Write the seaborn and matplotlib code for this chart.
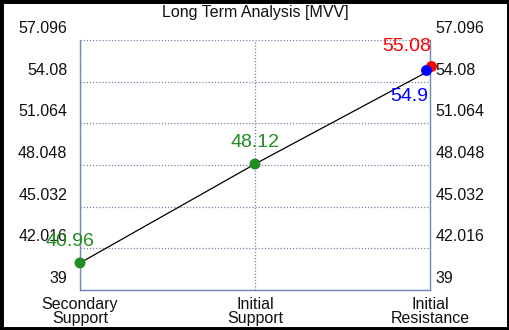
import pandas as pd
import matplotlib
matplotlib.use("Agg")
import matplotlib.pyplot as plt
import matplotlib.transforms as mtransforms
from matplotlib.patches import Rectangle
import seaborn as sns

# chart data
categories = ["Secondary\nSupport", "Initial\nSupport", "Initial\nResistance"]
path_values = [40.96, 48.12, 54.9]
path_colors = ["#228b22", "#228b22", "#0000ff"]
resistance_value = 55.08
y_ticks = [39, 42.016, 45.032, 48.048, 51.064, 54.08, 57.096]
y_tick_labels = ["39", "42.016", "45.032", "48.048", "51.064", "54.08", "57.096"]

sns.set_theme(style="white")
plt.rcParams["font.family"] = ["Liberation Sans", "DejaVu Sans"]

df = pd.DataFrame({"pos": range(len(categories)), "value": path_values, "color": path_colors})

fig = plt.figure(figsize=(5.1, 3.3), dpi=100)
ax = fig.add_axes([80 / 510, 40 / 330, 350 / 510, 250 / 330])

sns.lineplot(data=df, x="pos", y="value", color="black", linewidth=0.9, ax=ax, zorder=3)
ax.lines[-1].set_clip_on(False)

# small pixel nudges so the two end markers sit side by side as in the source
left = mtransforms.ScaledTranslation(-4 / 100, 0, fig.dpi_scale_trans)
right = mtransforms.ScaledTranslation(1 / 100, 2 / 100, fig.dpi_scale_trans)
ax.scatter([2], [resistance_value], c="#ff0000", s=62, zorder=4, linewidths=0,
           transform=ax.transData + right, clip_on=False)
ax.scatter(df["pos"][:2], df["value"][:2], c=df["color"][:2], s=62, zorder=5,
           linewidths=0, clip_on=False)
ax.scatter(df["pos"][2:], df["value"][2:], c=df["color"][2:], s=62, zorder=5,
           linewidths=0, clip_on=False, transform=ax.transData + left)

ax.set_xlim(0, 2)
ax.set_ylim(y_ticks[0], y_ticks[-1])
ax.set_xticks(df["pos"])
ax.set_xticklabels(categories, fontsize=11.5, color="#111111", linespacing=0.9)
ax.set_yticks(y_ticks)
ax.set_yticklabels(y_tick_labels, fontsize=11.5, color="#111111")
ax.set_xlabel("")
ax.set_ylabel("")
ax.tick_params(axis="y", length=0, pad=9)
ax.tick_params(axis="x", length=0, pad=5)

ax.grid(True, linestyle=(0, (1, 1.5)), color="#7585a8", linewidth=0.9)
for side in ["left", "right", "bottom"]:
    ax.spines[side].set_color("#7088b4")
    ax.spines[side].set_linewidth(1.0)
ax.spines["top"].set_visible(False)

up = mtransforms.ScaledTranslation(0, 13 / 100, fig.dpi_scale_trans)
for lbl in ax.get_yticklabels():
    lbl.set_transform(lbl.get_transform() + up)

ax2 = ax.twinx()
ax2.set_ylim(ax.get_ylim())
ax2.set_yticks(y_ticks)
ax2.set_yticklabels(y_tick_labels, fontsize=11.5, color="#111111")
ax2.tick_params(axis="y", length=0, pad=4)
for s in ax2.spines.values():
    s.set_visible(False)
for lbl in ax2.get_yticklabels():
    lbl.set_transform(lbl.get_transform() + up)

# value labels
label_offsets = [(-10, 21), (0, 22), (-21, -26)]
for i, row in df.iterrows():
    dx, dy = label_offsets[i]
    ax.annotate(f"{row['value']:g}", (row["pos"], row["value"]), xytext=(dx * 0.72, dy * 0.72),
                textcoords="offset points", ha="center", va="center",
                fontsize=14, color=row["color"], zorder=6)
ax.annotate(f"{resistance_value:g}", (2, resistance_value), xytext=(-23 * 0.72, 21 * 0.72),
            textcoords="offset points", ha="center", va="center",
            fontsize=14, color="#ff0000", zorder=6)

fig.text(0.5, 1 - 12.5 / 330, "Long Term Analysis [MVV]", ha="center", va="center",
         fontsize=11.5, color="#111111")

fig.patches.append(Rectangle((0, 0), 1, 1, transform=fig.transFigure, fill=False,
                             edgecolor="black", linewidth=5))

fig.savefig("out.png", dpi=100)
